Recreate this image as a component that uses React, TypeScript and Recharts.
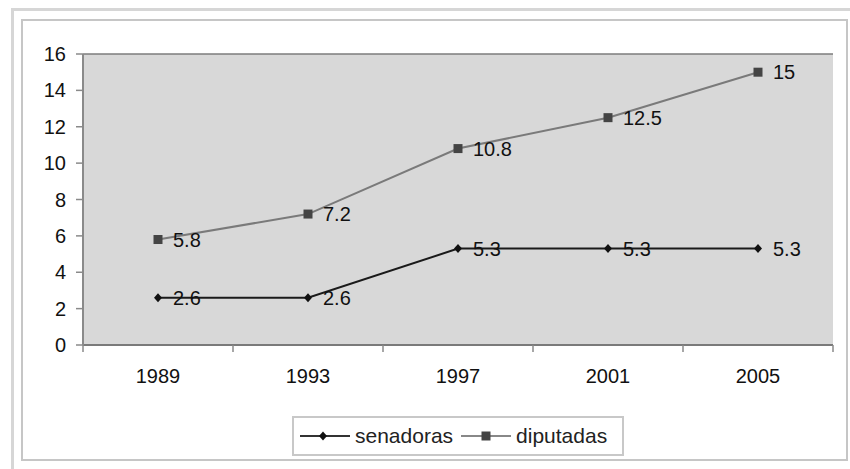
import React from "react";
import {
  LineChart,
  Line,
  XAxis,
  YAxis,
  CartesianGrid,
  Legend,
  LabelList,
} from "recharts";

const years = ["1989", "1993", "1997", "2001", "2005"];
const senadoras = [2.6, 2.6, 5.3, 5.3, 5.3];
const diputadas = [5.8, 7.2, 10.8, 12.5, 15];
const yTicks = [0, 2, 4, 6, 8, 10, 12, 14, 16];

const data = years.map((year, i) => ({
  year,
  senadoras: senadoras[i],
  diputadas: diputadas[i],
}));

const FONT = '"Liberation Sans", Arial, sans-serif';
const TEXT = "#111";

const XTick = (props: any) => {
  const { x, y, payload, index, visibleTicksCount } = props;
  const half = payload && payload.offset ? payload.offset : 75;
  const axisY = y - 10;
  return (
    <g>
      <line x1={x - half} y1={axisY} x2={x - half} y2={axisY + 7} stroke="#8a8a8a" strokeWidth={1.5} />
      {index === (visibleTicksCount ?? 5) - 1 && (
        <line x1={x + half} y1={axisY} x2={x + half} y2={axisY + 7} stroke="#8a8a8a" strokeWidth={1.5} />
      )}
      <text x={x} y={axisY + 38} textAnchor="middle" fontFamily={FONT} fontSize={20} fill={TEXT}>
        {payload.value}
      </text>
    </g>
  );
};

const SquareDot = (props: any) => {
  const { cx, cy } = props;
  if (cx == null || cy == null) return null;
  return <rect x={cx - 4.5} y={cy - 4.5} width={9} height={9} fill="#444" />;
};

const DiamondDot = (props: any) => {
  const { cx, cy } = props;
  if (cx == null || cy == null) return null;
  return (
    <path
      d={`M${cx},${cy - 4.5} L${cx + 4},${cy} L${cx},${cy + 4.5} L${cx - 4},${cy} Z`}
      fill="#111"
    />
  );
};

const renderLabel = (props: any) => {
  const { x, y, value } = props;
  return (
    <text
      x={x + 15}
      y={y}
      dy="0.36em"
      fontFamily={FONT}
      fontSize={20}
      fill={TEXT}
      textAnchor="start"
    >
      {value}
    </text>
  );
};

const LegendContent = () => (
  <div
    style={{
      boxSizing: "border-box",
      height: 40,
      width: 332,
      border: "2px solid #c8c8c8",
      background: "#fff",
      display: "flex",
      alignItems: "center",
      paddingLeft: 6,
      fontFamily: FONT,
      fontSize: 21,
      color: "#222",
    }}
  >
    <svg width={50} height={12} style={{ display: "block" }}>
      <line x1={0} y1={6} x2={50} y2={6} stroke="#333" strokeWidth={2} />
      <path d="M23,1.5 L27,6 L23,10.5 L19,6 Z" fill="#111" />
    </svg>
    <span style={{ marginLeft: 5 }}>senadoras</span>
    <svg width={50} height={12} style={{ display: "block", marginLeft: 8 }}>
      <line x1={0} y1={6} x2={50} y2={6} stroke="#888" strokeWidth={2} />
      <rect x={20.5} y={1.5} width={9} height={9} fill="#444" />
    </svg>
    <span style={{ marginLeft: 5 }}>diputadas</span>
  </div>
);

export default function App() {
  return (
    <div
      style={{
        position: "absolute",
        left: 0,
        top: 0,
        width: 850,
        height: 469,
        background: "#fff",
        overflow: "hidden",
      }}
    >
      <div
        style={{
          position: "absolute",
          left: 11,
          top: 8,
          width: 900,
          height: 500,
          borderLeft: "3px solid #d6d6d6",
          borderTop: "3px solid #d6d6d6",
        }}
      />
      <div
        style={{
          position: "absolute",
          left: 21,
          top: 19,
          width: 827,
          height: 442,
          boxSizing: "border-box",
          border: "2px solid #c6c6c6",
        }}
      />
      <div style={{ position: "absolute", left: 0, top: 0 }}>
        <LineChart
          width={850}
          height={469}
          data={data}
          margin={{ top: 54, right: 17, bottom: 54, left: 33 }}
        >
          <CartesianGrid
            vertical={false}
            horizontal={true}
            fill="#d8d8d8"
            fillOpacity={1}
            stroke="#7c7c7c"
            strokeWidth={1.5}
          />
          <XAxis
            dataKey="year"
            scale="band"
            height={30}
            tickLine={false}
            tickSize={6}
            tickMargin={4}
            axisLine={{ stroke: "#7a7a7a", strokeWidth: 2 }}
            tick={<XTick />}
            interval={0}
          />
          <YAxis
            yAxisId="left"
            width={50}
            domain={[0, 16]}
            ticks={yTicks}
            interval={0}
            tickSize={7}
            tickMargin={10}
            tickLine={{ stroke: "#8a8a8a", strokeWidth: 1.5 }}
            axisLine={{ stroke: "#8a8a8a", strokeWidth: 2 }}
            tick={{ fontFamily: FONT, fontSize: 20, fill: TEXT }}
          />
          <YAxis
            yAxisId="right"
            orientation="right"
            width={0}
            domain={[0, 16]}
            tick={false}
            tickLine={false}
            axisLine={{ stroke: "#b0b0b0", strokeWidth: 1.5 }}
          />
          <Legend
            verticalAlign="bottom"
            align="center"
            content={<LegendContent />}
            wrapperStyle={{ top: 416, left: 292, bottom: "auto", width: 332, height: 40 }}
          />
          <Line
            yAxisId="left"
            type="linear"
            dataKey="senadoras"
            stroke="#1a1a1a"
            strokeWidth={2}
            dot={<DiamondDot />}
            activeDot={false}
            isAnimationActive={false}
          >
            <LabelList dataKey="senadoras" content={renderLabel} />
          </Line>
          <Line
            yAxisId="left"
            type="linear"
            dataKey="diputadas"
            stroke="#7a7a7a"
            strokeWidth={2}
            dot={<SquareDot />}
            activeDot={false}
            isAnimationActive={false}
          >
            <LabelList dataKey="diputadas" content={renderLabel} />
          </Line>
        </LineChart>
      </div>
    </div>
  );
}
